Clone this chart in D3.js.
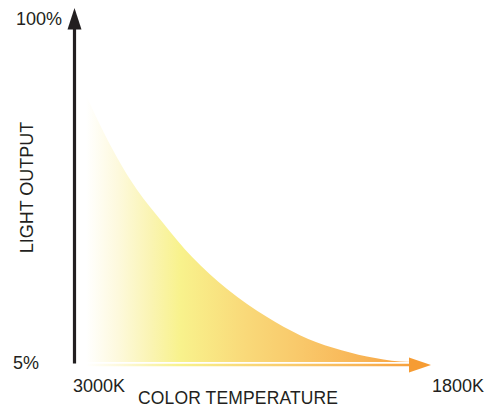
<!DOCTYPE html>
<html>
<head>
<meta charset="utf-8">
<script src="https://cdn.jsdelivr.net/npm/d3@7"></script>
<style>
  html, body { margin: 0; padding: 0; background: #fff; }
  svg { display: block; }
  text { font-family: "Liberation Sans", Arial, sans-serif; fill: #231f20; }
</style>
</head>
<body>
<svg id="chart" width="487" height="408"></svg>
<script>
// ---- data ----
const kelvin = [2961, 2917, 2857, 2789, 2701, 2603, 2485, 2350, 2239, 2127, 2013, 1901, 1861];
const lightOutput = [78.5, 70.8, 61.4, 52.4, 43.3, 33.9, 25.1, 17.4, 12.4, 8.9, 6.5, 5.14, 5.0];
const xDomain = [3000, 1800];
const yDomain = [5, 100];
const xTickLabels = ["3000K", "1800K"];
const yTickLabels = ["5%", "100%"];
const xTitle = "COLOR TEMPERATURE";
const yTitle = "LIGHT OUTPUT";

// ---- layout ----
const svg = d3.select("#chart");
const x = d3.scaleLinear().domain(xDomain).range([74.5, 430]);
const y = d3.scaleLinear().domain(yDomain).range([362, 17]);
const data = kelvin.map((k, i) => ({ k, v: lightOutput[i] }));

const defs = svg.append("defs");
const grad = defs.append("linearGradient")
  .attr("id", "warm")
  .attr("gradientUnits", "userSpaceOnUse")
  .attr("x1", x(kelvin[0])).attr("x2", x(kelvin[kelvin.length - 1]))
  .attr("y1", 0).attr("y2", 0);
[
  [0.00, "#ffffff"],
  [0.10, "#fdf9dc"],
  [0.20, "#faf4b2"],
  [0.29, "#f8f28c"],
  [0.48, "#f9da7a"],
  [0.66, "#f9c86a"],
  [0.85, "#f8b455"],
  [1.00, "#f7a03c"]
].forEach(([o, c]) => grad.append("stop").attr("offset", o).attr("stop-color", c));

// area
const area = d3.area()
  .x(d => x(d.k))
  .y0(y(yDomain[0]))
  .y1(d => y(d.v))
  .curve(d3.curveMonotoneX);
svg.append("path").datum(data).attr("d", area).attr("fill", "url(#warm)");

// x axis arrow (gradient line)
const xAxisY = y(yDomain[0]) + 3;
svg.append("line")
  .attr("x1", x(kelvin[0])).attr("x2", x(xDomain[1]) - 18)
  .attr("y1", xAxisY).attr("y2", xAxisY)
  .attr("stroke", "url(#warm)").attr("stroke-width", 2.5);
svg.append("path")
  .attr("d", d3.line()([
    [x(xDomain[1]) - 21, xAxisY - 7.5],
    [x(xDomain[1]) + 1, xAxisY],
    [x(xDomain[1]) - 21, xAxisY + 7.5]
  ]) + "Z")
  .attr("fill", "#f69c33");

// y axis arrow
const yAxisX = x(xDomain[0]);
svg.append("line")
  .attr("x1", yAxisX).attr("x2", yAxisX)
  .attr("y1", y(yDomain[0]) + 1.5).attr("y2", 28)
  .attr("stroke", "#231f20").attr("stroke-width", 3.2);
svg.append("path")
  .attr("d", d3.line()([
    [yAxisX - 7, 29.5],
    [yAxisX, 8],
    [yAxisX + 7, 29.5]
  ]) + "Z")
  .attr("fill", "#231f20");

// tick labels
svg.append("text").attr("x", 62).attr("y", y(yDomain[1]) + 7.5)
  .attr("text-anchor", "end").attr("font-size", 18).text(yTickLabels[1]);
svg.append("text").attr("x", 13).attr("y", y(yDomain[0]) + 6.5)
  .attr("text-anchor", "start").attr("font-size", 18).text(yTickLabels[0]);
svg.append("text").attr("x", x(xDomain[0]) - 1.5).attr("y", 392)
  .attr("text-anchor", "start").attr("font-size", 18).text(xTickLabels[0]);
svg.append("text").attr("x", x(xDomain[1]) + 2).attr("y", 392)
  .attr("text-anchor", "start").attr("font-size", 18).text(xTickLabels[1]);

// titles
svg.append("text").attr("x", 138).attr("y", 403.5)
  .attr("font-size", 17.5).attr("textLength", 200).text(xTitle);
svg.append("text")
  .attr("transform", "translate(33,187.5) rotate(-90)")
  .attr("text-anchor", "middle").attr("font-size", 18).text(yTitle);
</script>
</body>
</html>
